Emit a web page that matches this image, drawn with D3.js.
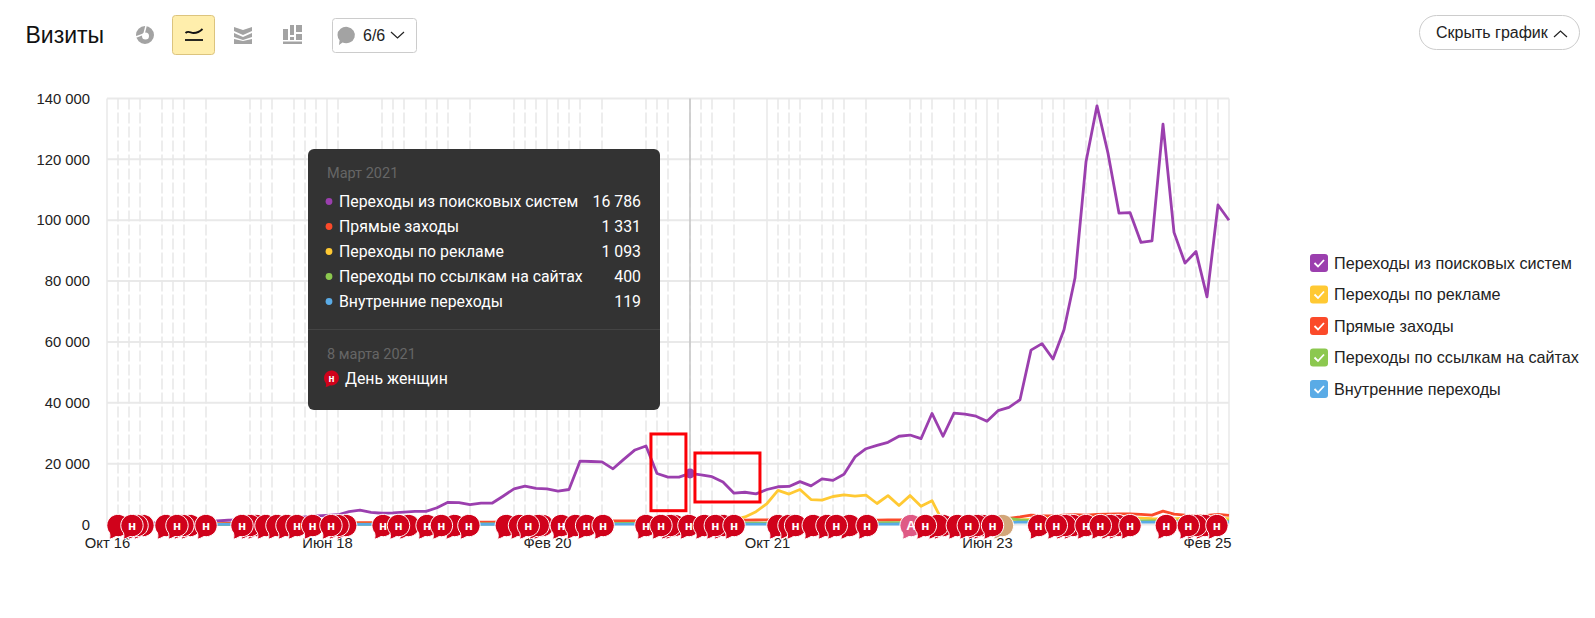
<!DOCTYPE html>
<html><head><meta charset="utf-8">
<script src="https://cdn.jsdelivr.net/npm/d3@7/dist/d3.min.js"></script>
<style>html,body{margin:0;padding:0;background:#fff;overflow:hidden}svg{display:block}text{font-family:"Liberation Sans",Arial,sans-serif}</style>
</head><body><svg id="c" width="1595" height="618"></svg>
<script>
const search=[300,350,400,450,500,550,600,650,800,1000,1200,1400,1500,1550,1600,1700,1900,2200,2500,2800,3000,3200,4200,4700,4000,3700,3800,4100,4300,4300,5500,7300,7200,6500,7000,7000,9300,11700,12600,11900,11700,11000,11500,20800,20700,20600,18300,21500,24500,25800,16770,15560,15560,16786,16300,15700,14000,10300,10600,10080,11500,12400,12500,14100,12700,15000,14500,16500,22200,24900,26000,27000,29000,29400,28200,36500,29000,36600,36300,35600,33900,37400,38500,41000,57300,59450,54400,64000,81000,119200,137600,122000,102300,102500,92700,93200,131600,96000,85900,89700,74800,105000,100000];
const ads=[50,50,50,60,60,60,70,70,70,80,80,90,90,100,100,100,110,110,120,120,120,130,130,130,140,140,140,150,150,150,160,160,170,170,170,180,180,190,200,200,220,250,300,350,400,450,500,600,700,800,900,1000,1050,1093,1100,1100,1150,1600,2500,4200,6900,11200,10000,11500,8200,8000,9200,9750,9300,9650,6900,9500,6250,9500,6000,7800,800,700,600,600,600,900,1200,1500,1700,1900,2300,2700,2500,2600,2400,2500,2300,2200,2100,1900,1800,1900,2000,2100,2200,2000,1900];
const direct=[100,120,130,150,170,200,220,250,270,300,320,340,360,380,400,420,440,460,480,500,520,540,560,580,600,600,620,640,660,680,700,720,740,760,780,800,820,840,860,880,900,950,1000,1050,1100,1120,1150,1180,1200,1230,1260,1290,1310,1331,1350,1380,1400,1430,1450,1480,1500,1520,1540,1500,1480,1450,1500,1480,1460,1450,1420,1480,1500,1520,1550,1400,1600,1700,1500,1400,1500,1800,2000,2500,3100,2900,2800,3100,3200,3100,3300,3400,3500,3500,3300,3100,4400,3400,3100,2900,3000,3300,3000];
const links=[40,40,50,50,60,60,60,70,70,80,80,90,90,100,100,110,110,120,120,130,130,140,140,150,150,160,160,170,170,180,180,190,190,200,200,210,220,230,240,250,260,270,280,290,300,310,320,330,340,350,370,380,390,400,410,420,430,440,450,460,470,480,490,500,500,510,520,530,540,550,560,570,580,590,600,610,620,640,660,700,800,1500,2000,1500,1300,1200,1200,1200,1200,1200,1200,1200,1200,1200,1200,1200,1200,1200,1200,1200,1200,1200,1200];
const internal=[20,20,20,30,30,30,30,40,40,40,40,40,50,50,50,50,60,60,60,60,60,70,70,70,70,70,80,80,80,80,80,90,90,90,90,90,90,100,100,100,100,100,100,100,110,110,110,110,110,110,115,115,118,119,120,120,120,120,130,130,130,130,130,140,140,140,140,140,150,150,150,150,160,160,160,170,170,180,180,200,300,500,700,800,800,800,800,800,800,800,800,800,800,800,800,800,800,800,800,800,800,800,800];
const xTickMonths=[0,20,40,60,80,100];
const xTickLabels=["Окт 16","Июн 18","Фев 20","Окт 21","Июн 23","Фев 25"];
const yTicks=[0,20000,40000,60000,80000,100000,120000,140000];
const holidayMonths=[1,2,3,5,6,7,9,13,14,15,17,18,19,21,25,26,27,29,30,31,33,37,38,39,41,42,43,45,49,50,51,53,54,55,57,61,62,63,65,66,67,69,73,74,75,77,78,79,81,85,86,87,89,90,91,93,97,98,99,101];
// event pins: month position in draw order (earliest drawn is lowest)
const pinMonths=[
 1,3.27,2.73,2.27,
 5.36,7.55,6.9,6.36,9,
 13.6,13,12.27,14.45,15.45,16.36,17.27,18.7,21.7,21,20.36,
 25.1,27.4,26.5,29.1,31.6,30.4,32.9,
 36.3,37.5,39.6,39.2,38.3,41.3,42.6,43.6,45.1,
 49,51.6,51.2,50.36,52.9,54.3,56,55.3,57,
 61,62,62.6,64.2,65.45,67.5,66.3,69.1,
 76,75.5,74.4,77.3,79.6,79.1,78.3,80.5,
 84.7,87.8,87.1,86.3,89,91.9,91.2,90.3,93,96.3,99.8,99,98.3,100.9
];
const accentPins=[{m:81.4,c:"#d2a679",t:""},{m:73.1,c:"#df5a85",t:"А"}];
const seriesNames=["Переходы из поисковых систем","Переходы по рекламе","Прямые заходы","Переходы по ссылкам на сайтах","Внутренние переходы"];
const seriesColors=["#9b3fae","#ffc933","#fb4a2a","#8cc84f","#5aabe6"];
const tipNames=["Переходы из поисковых систем","Прямые заходы","Переходы по рекламе","Переходы по ссылкам на сайтах","Внутренние переходы"];
const tipValues=["16 786","1 331","1 093","400","119"];
const tipColors=["#9b3fae","#fb4a2a","#ffc933","#8cc84f","#5aabe6"];
const cursorMonth=53;

const svg=d3.select("#c");
const x=d3.scaleLinear().domain([0,102]).range([107,1229]);
const y=d3.scaleLinear().domain([0,140000]).range([524.5,98.5]);
const fmt=v=>d3.format(",")(v).replace(/,/g," ");

// grid
const grid=svg.append("g");
grid.selectAll(".h").data(yTicks).join("line").attr("x1",x(0)).attr("x2",x(102)).attr("y1",d=>y(d)).attr("y2",d=>y(d)).attr("stroke","#e9e9e9").attr("stroke-width",2);
grid.selectAll(".d").data(holidayMonths).join("line").attr("x1",d=>x(d)).attr("x2",d=>x(d)).attr("y1",y(140000)).attr("y2",y(0)).attr("stroke","#e8e8e8").attr("stroke-width",1.5).attr("stroke-dasharray","11 3");
grid.selectAll(".s").data(xTickMonths.concat([102])).join("line").attr("x1",d=>x(d)).attr("x2",d=>x(d)).attr("y1",y(140000)).attr("y2",y(0)).attr("stroke","#e9e9e9").attr("stroke-width",1.5);
svg.append("line").attr("x1",x(cursorMonth)).attr("x2",x(cursorMonth)).attr("y1",y(140000)).attr("y2",y(0)).attr("stroke","#c4c4c4").attr("stroke-width",1.5);

// axes
const yAxis=d3.axisLeft(y).tickValues(yTicks).tickFormat(fmt).tickSize(0).tickPadding(0);
const ya=svg.append("g").attr("transform","translate(90,0)").call(yAxis);
ya.select(".domain").remove();
ya.selectAll("text").attr("font-size",14.8).attr("fill","#222").attr("font-family","Liberation Sans");
const xAxis=d3.axisBottom(x).tickValues(xTickMonths).tickFormat((d,i)=>xTickLabels[i]).tickSize(0).tickPadding(0);
const xa=svg.append("g").attr("transform","translate(0,537)").call(xAxis);
xa.select(".domain").remove();
xa.selectAll("text").attr("font-size",14.8).attr("fill","#222").attr("font-family","Liberation Sans");

// lines
const line=d3.line().x((d,i)=>x(i)).y(d=>y(d));
[[search,0],[ads,1],[direct,2],[links,3],[internal,4]].forEach(([s,i])=>{
 svg.append("path").datum(s).attr("d",line).attr("fill","none").attr("stroke",seriesColors[i]).attr("stroke-width",2.8).attr("stroke-linejoin","round");
});
svg.append("circle").attr("cx",x(cursorMonth)).attr("cy",y(search[cursorMonth])).attr("r",5).attr("fill","#9b3fae");

// pins
function pin(g,cx,cy,r,color,label,stroke,fs){
 const p=g.append("g").attr("transform",`translate(${cx},${cy})`);
 const k=r/10;
 p.append("path").attr("d",`M${10*k} 0A${10*k} ${10*k} 0 0 1 ${-2*k} ${9.8*k}C${-4*k} ${11*k} ${-6*k} ${12*k} ${-8*k} ${12.2*k}C${-7*k} ${10.5*k} ${-7*k} ${9*k} ${-7.6*k} ${6.5*k}A${10*k} ${10*k} 0 1 1 ${10*k} 0Z`)
  .attr("fill",color).attr("stroke",stroke?"#fff":"none").attr("stroke-width",stroke?1:0);
 if(label)p.append("text").attr("text-anchor","middle").attr("y",fs*0.36).attr("font-size",fs).attr("font-weight","bold").attr("fill","#fff").text(label);
}
const pinsG=svg.append("g");
const pinRows=pinMonths.map(m=>({m,c:"#d0021b",t:"н"}));
const idxA=pinRows.findIndex(d=>d.m===76);
pinRows.splice(idxA,0,...accentPins);
pinRows.forEach((d,i)=>{
 // a letter hidden behind a later pin is not drawn
 const hidden=pinRows.slice(i+1).some(o=>Math.abs(x(o.m)-x(d.m))<14);
 pin(pinsG,x(d.m),525.5,11.2,d.c,hidden?"":d.t,true,13.5);
});

// red annotation frames (months and visit values)
const frames=[[49.45,52.63,29750,4535],[53.45,59.36,23500,7400]];
svg.selectAll(".fr").data(frames).join("rect").attr("x",d=>x(d[0])).attr("width",d=>x(d[1])-x(d[0])).attr("y",d=>y(d[2])).attr("height",d=>y(d[3])-y(d[2])).attr("fill","none").attr("stroke","#fb0007").attr("stroke-width",3);

// tooltip
const T=svg.append("g");
T.append("rect").attr("x",308).attr("y",149).attr("width",352).attr("height",261).attr("rx",6).attr("fill","#333");
const tf="Roboto";
T.append("text").attr("x",327).attr("y",178).attr("font-size",14.5).attr("fill","#666").style("font-family",tf).text("Март 2021");
tipNames.forEach((n,i)=>{
 const yy=201.5+i*25;
 T.append("circle").attr("cx",329).attr("cy",yy).attr("r",3.4).attr("fill",tipColors[i]);
 T.append("text").attr("x",339).attr("y",yy+5.2).attr("font-size",15.85).attr("fill","#fff").style("font-family",tf).text(n);
 T.append("text").attr("x",641).attr("y",yy+5.2).attr("text-anchor","end").attr("font-size",15.85).attr("fill","#fff").style("font-family",tf).text(tipValues[i]);
});
T.append("line").attr("x1",308).attr("x2",660).attr("y1",329.5).attr("y2",329.5).attr("stroke","#444");
T.append("text").attr("x",327).attr("y",358.5).attr("font-size",14.5).attr("fill","#666").style("font-family",tf).text("8 марта 2021");
pin(T,331.5,378,7.5,"#d0021b","н",false,10);
T.append("text").attr("x",345).attr("y",384).attr("font-size",15.85).attr("fill","#fff").style("font-family",tf).text("День женщин");

// legend
const L=svg.append("g");
seriesNames.forEach((n,i)=>{
 const yy=263+i*31.5;
 L.append("rect").attr("x",1310).attr("y",yy-9).attr("width",18).attr("height",18).attr("rx",3).attr("fill",seriesColors[i]);
 L.append("path").attr("d",`M${1314.5} ${yy}l3.5 3.5l6-6.5`).attr("fill","none").attr("stroke","#fff").attr("stroke-width",1.8);
 L.append("text").attr("x",1334).attr("y",yy+5.5).attr("font-size",16.2).attr("fill","#222").text(n);
});

// header
const H=svg.append("g");
H.append("text").attr("x",25.5).attr("y",43).attr("font-size",23).attr("fill","#111").text("Визиты");
H.append("path").attr("d","M136 35a9 9 0 1 1 18 0a9 9 0 1 1 -18 0M142 36a3.5 3.5 0 1 0 7 0a3.5 3.5 0 1 0 -7 0Z").attr("fill","#a3a3a3").attr("fill-rule","evenodd");
H.append("path").attr("d","M146 26l-2 8l-8 3").attr("stroke","#fff").attr("stroke-width",1.5).attr("fill","none");
H.append("rect").attr("x",172.5).attr("y",15.5).attr("width",42).attr("height",39).attr("rx",3).attr("fill","#ffeeac").attr("stroke","#dcc47e");
H.append("path").attr("d","M185.5 33c3-3 5 0 8 0s7-2 9-4").attr("stroke","#111").attr("stroke-width",1.8).attr("fill","none");
H.append("path").attr("d","M185 40h18").attr("stroke","#111").attr("stroke-width",1.8);
H.append("path").attr("d","M234 27l9 3l9-3v4l-9 4l-9-4zM234 33l9 4l9-4v4l-9 3l-9-3zM234 39l9 2l9-2v5h-18z").attr("fill","#a3a3a3");
H.append("path").attr("d","M283 29h5v11h-5zM290 25h4v10h-4zM290 37h4v3h-4zM296 25h6v7h-6zM296 34h6v6h-6zM283 41.5h19v2.5h-19z").attr("fill","#a3a3a3");
H.append("rect").attr("x",332.5).attr("y",18.5).attr("width",84).attr("height",34).attr("rx",3).attr("fill","#fff").attr("stroke","#ccc");
H.append("path").attr("d","M337.5 35a8.7 8.2 0 1 1 5 7.5l-3.5 2.5l.6-4.8a8 8 0 0 1 -2.1-5.2z").attr("fill","#a3a3a3");
H.append("text").attr("x",363).attr("y",40.5).attr("font-size",16).attr("fill","#222").text("6/6");
H.append("path").attr("d","M391 32l6.5 6l6.5-6").attr("fill","none").attr("stroke","#222").attr("stroke-width",1.2);
H.append("rect").attr("x",1419.5).attr("y",15.5).attr("width",160).attr("height",34).attr("rx",17).attr("fill","#fff").attr("stroke","#ccc");
H.append("text").attr("x",1436).attr("y",38).attr("font-size",16).attr("fill","#222").text("Скрыть график");
H.append("path").attr("d","M1554 37l6.5-6l6.5 6").attr("fill","none").attr("stroke","#222").attr("stroke-width",1.2);
</script></body></html>
